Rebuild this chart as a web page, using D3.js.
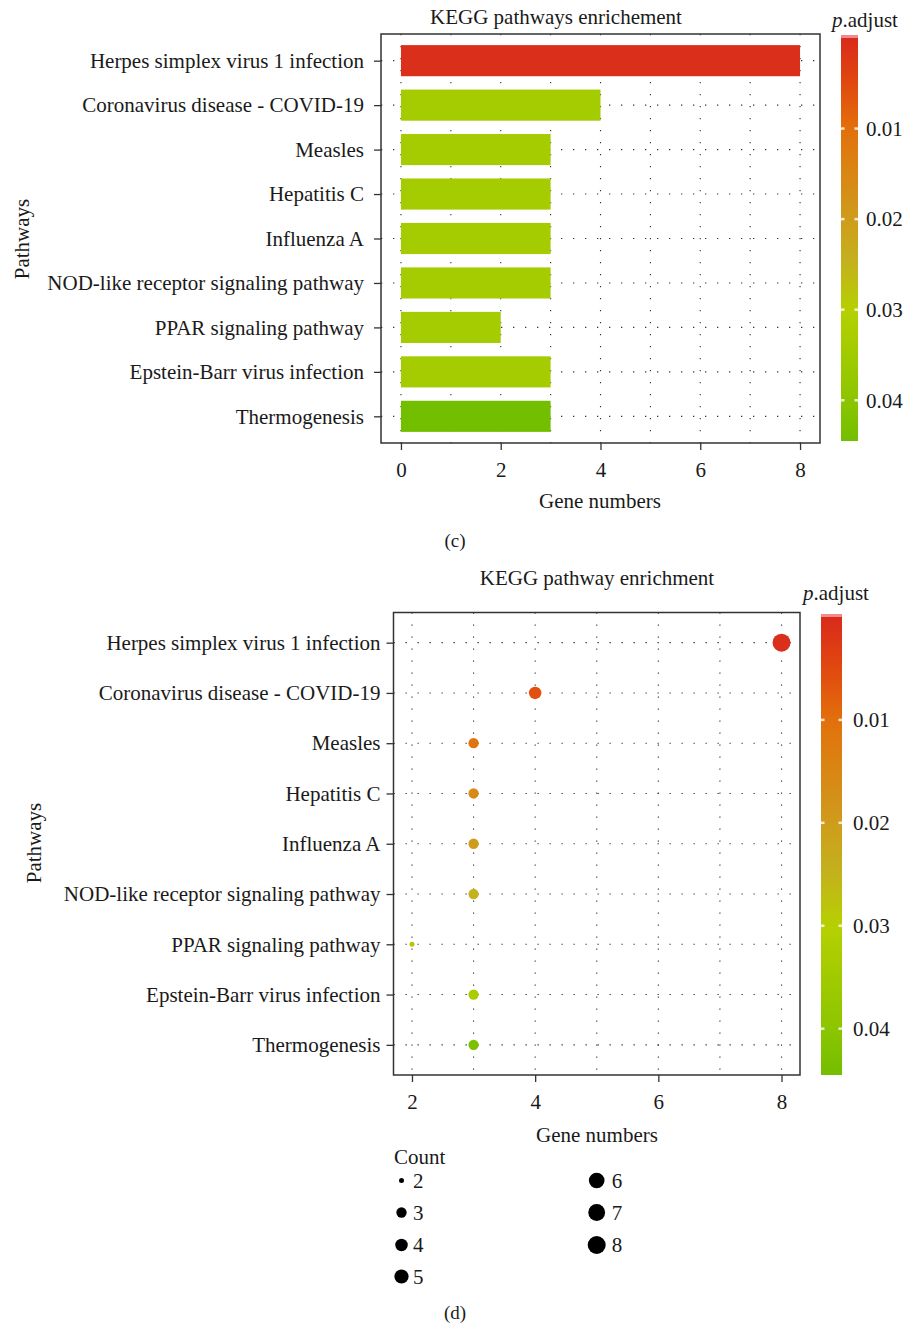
<!DOCTYPE html>
<html>
<head>
<meta charset="utf-8">
<script src="https://cdn.jsdelivr.net/npm/d3@7"></script>
<style>
  html, body { margin: 0; padding: 0; background: #fff; }
  svg { display: block; font-family: "Liberation Serif", "DejaVu Serif", serif; }
</style>
</head>
<body>
<svg id="fig" width="903" height="1327"></svg>
<script>
// ---- data ----
const pathways = [
  "Herpes simplex virus 1 infection",
  "Coronavirus disease - COVID-19",
  "Measles",
  "Hepatitis C",
  "Influenza A",
  "NOD-like receptor signaling pathway",
  "PPAR signaling pathway",
  "Epstein-Barr virus infection",
  "Thermogenesis"
];
const geneCounts = [8, 4, 3, 3, 3, 3, 2, 3, 3];
const barPAdjust = [0.0008, 0.034, 0.034, 0.034, 0.034, 0.034, 0.034, 0.034, 0.0445];
const dotPAdjust = [0.0008, 0.006, 0.011, 0.016, 0.020, 0.025, 0.028, 0.033, 0.043];
const colorTicks = [0.01, 0.02, 0.03, 0.04];
const colorTickLabels = ["0.01", "0.02", "0.03", "0.04"];
const countLegend = [2, 3, 4, 5, 6, 7, 8];
const barXTicks = [0, 2, 4, 6, 8];
const dotXTicks = [2, 4, 6, 8];

// p.adjust colour ramp (red -> orange -> gold -> yellow-green -> green)
const pMax = 0.0445;
const colorStopsP = [0, 0.005, 0.01, 0.02, 0.025, 0.03, 0.04, pMax];
const colorStopsC = ["#d92a1c", "#e1480f", "#e2700c", "#cf9c1c", "#c3b21c", "#b6d000", "#8cc500", "#74be00"];
const pColor = d3.scaleLinear().domain(colorStopsP).range(colorStopsC).interpolate(d3.interpolateRgb).clamp(true);

const svg = d3.select("#fig");
const FS = 21;
const INK = "#1a1a1a";
const defs = svg.append("defs");

const barRows = pathways.map((p, i) => ({ name: p, count: geneCounts[i], padj: barPAdjust[i] }));
const dotRows = pathways.map((p, i) => ({ name: p, count: geneCounts[i], padj: dotPAdjust[i] }));

function dottedGrid(g, x, y, xs, left, right, top, bottom) {
  const dash = "1.3,10.7";
  g.selectAll("line.vg").data(xs).join("line").attr("class", "vg")
    .attr("x1", d => x(d)).attr("x2", d => x(d))
    .attr("y1", top).attr("y2", bottom)
    .attr("stroke", "#333").attr("stroke-width", 1.1).attr("stroke-dasharray", dash);
  g.selectAll("line.hg").data(pathways).join("line").attr("class", "hg")
    .attr("x1", left).attr("x2", right)
    .attr("y1", d => y(d)).attr("y2", d => y(d))
    .attr("stroke", "#333").attr("stroke-width", 1.1).attr("stroke-dasharray", dash);
}

function styleAxis(a) {
  a.attr("font-family", null).attr("font-size", null);
  a.select(".domain").remove();
  a.selectAll("line").attr("stroke", "#333").attr("stroke-width", 1.3);
  a.selectAll("text").attr("font-size", FS).attr("fill", INK);
}

function colorbar(id, x0, top, bottom, width, labelX, titleX, titleY) {
  const grad = defs.append("linearGradient").attr("id", id)
    .attr("x1", 0).attr("y1", 0).attr("x2", 0).attr("y2", 1);
  d3.range(0, 1.0001, 0.02).forEach(t => {
    grad.append("stop").attr("offset", t).attr("stop-color", pColor(t * pMax));
  });
  const cy = d3.scaleLinear().domain([0, pMax]).range([top, bottom]);
  svg.append("rect").attr("x", x0).attr("y", top - 3).attr("width", width).attr("height", 4)
    .attr("fill", "#f38a8a");
  svg.append("rect").attr("x", x0).attr("y", top).attr("width", width).attr("height", bottom - top)
    .attr("fill", `url(#${id})`);
  const tk = svg.append("g");
  colorTicks.forEach((v, i) => {
    const yy = cy(v);
    tk.append("line").attr("x1", x0).attr("x2", x0 + 3.5).attr("y1", yy).attr("y2", yy)
      .attr("stroke", "#fff").attr("stroke-opacity", 0.8).attr("stroke-width", 2.5);
    tk.append("line").attr("x1", x0 + width - 3.5).attr("x2", x0 + width).attr("y1", yy).attr("y2", yy)
      .attr("stroke", "#fff").attr("stroke-opacity", 0.8).attr("stroke-width", 2.5);
    tk.append("text").attr("x", labelX).attr("y", yy).attr("dy", "0.35em")
      .attr("font-size", FS).attr("fill", INK).text(colorTickLabels[i]);
  });
  const t = svg.append("text").attr("x", titleX).attr("y", titleY).attr("font-size", FS).attr("fill", INK);
  t.append("tspan").attr("font-style", "italic").text("p");
  t.append("tspan").text(".adjust");
}

// ================= (c) bar chart =================
(function () {
  const L = 381, R = 820, T = 34, B = 443;
  const maxC = d3.max(geneCounts);
  const x = d3.scaleLinear().domain([-0.05 * maxC, maxC * 1.05]).range([L, R]);
  const y = d3.scalePoint().domain(pathways).range([T, B]).padding(0.6);
  const g = svg.append("g");

  dottedGrid(g, x, y, d3.range(0, maxC + 1), L, R, T, B);

  g.selectAll("rect.bar").data(barRows).join("rect").attr("class", "bar")
    .attr("x", x(0)).attr("width", d => x(d.count) - x(0))
    .attr("y", d => y(d.name) - y.step() * 0.35).attr("height", y.step() * 0.7)
    .attr("fill", d => pColor(d.padj));

  g.append("rect").attr("x", L).attr("y", T).attr("width", R - L).attr("height", B - T)
    .attr("fill", "none").attr("stroke", "#333").attr("stroke-width", 1.5);

  g.append("g").attr("transform", `translate(${L},0)`)
    .call(d3.axisLeft(y).tickSize(7).tickPadding(10)).call(styleAxis);

  g.append("g").attr("transform", `translate(0,${B})`)
    .call(d3.axisBottom(x).tickValues(barXTicks).tickFormat(d3.format("d")).tickSize(7).tickPadding(12))
    .call(styleAxis);

  svg.append("text").attr("x", 556).attr("y", 24).attr("text-anchor", "middle")
    .attr("font-size", FS).attr("fill", INK).text("KEGG pathways enrichement");
  svg.append("text").attr("x", 600).attr("y", 508).attr("text-anchor", "middle")
    .attr("font-size", FS).attr("fill", INK).text("Gene numbers");
  svg.append("text").attr("transform", "translate(29,239) rotate(-90)").attr("text-anchor", "middle")
    .attr("font-size", FS).attr("fill", INK).text("Pathways");
  svg.append("text").attr("x", 455).attr("y", 547).attr("text-anchor", "middle")
    .attr("font-size", FS - 2).attr("fill", INK).text("(c)");

  colorbar("gradC", 841, 38, 441, 17, 866, 832, 27);
})();

// ================= (d) dot chart =================
(function () {
  const L = 393.5, R = 800, T = 612.5, B = 1075;
  const minC = d3.min(geneCounts), maxC = d3.max(geneCounts);
  const pad = (maxC - minC) * 0.05;
  const x = d3.scaleLinear().domain([minC - pad, maxC + pad]).range([L, R]);
  const y = d3.scalePoint().domain(pathways).range([T, B]).padding(0.6);
  const rNorm = d3.scaleLinear().domain([0, 1]).range([2.5, 9]);
  const radius = c => rNorm(Math.sqrt((c - minC) / (maxC - minC)));
  const g = svg.append("g");

  dottedGrid(g, x, y, d3.range(minC, maxC + 1), L, R, T, B);

  g.selectAll("circle.dot").data(dotRows).join("circle").attr("class", "dot")
    .attr("cx", d => x(d.count)).attr("cy", d => y(d.name)).attr("r", d => radius(d.count))
    .attr("fill", d => pColor(d.padj));

  g.append("rect").attr("x", L).attr("y", T).attr("width", R - L).attr("height", B - T)
    .attr("fill", "none").attr("stroke", "#333").attr("stroke-width", 1.5);

  g.append("g").attr("transform", `translate(${L},0)`)
    .call(d3.axisLeft(y).tickSize(7).tickPadding(6)).call(styleAxis);

  g.append("g").attr("transform", `translate(0,${B})`)
    .call(d3.axisBottom(x).tickValues(dotXTicks).tickFormat(d3.format("d")).tickSize(7).tickPadding(12))
    .call(styleAxis);

  svg.append("text").attr("x", 597).attr("y", 585).attr("text-anchor", "middle")
    .attr("font-size", FS).attr("fill", INK).text("KEGG pathway enrichment");
  svg.append("text").attr("x", 597).attr("y", 1142).attr("text-anchor", "middle")
    .attr("font-size", FS).attr("fill", INK).text("Gene numbers");
  svg.append("text").attr("transform", "translate(41,843) rotate(-90)").attr("text-anchor", "middle")
    .attr("font-size", FS).attr("fill", INK).text("Pathways");
  svg.append("text").attr("x", 455).attr("y", 1319).attr("text-anchor", "middle")
    .attr("font-size", FS - 2).attr("fill", INK).text("(d)");

  colorbar("gradD", 821, 617, 1075, 21, 853, 803, 600);

  // size legend
  const lg = svg.append("g");
  lg.append("text").attr("x", 394).attr("y", 1164).attr("font-size", FS).attr("fill", INK).text("Count");
  const colX = [401.5, 596.7];
  const rowY = [1180.5, 1212.5, 1245, 1276.5];
  const items = countLegend.map((c, i) => ({ c, col: i < 4 ? 0 : 1, row: i < 4 ? i : i - 4 }));
  lg.selectAll("circle").data(items).join("circle")
    .attr("cx", d => colX[d.col]).attr("cy", d => rowY[d.row]).attr("r", d => radius(d.c))
    .attr("fill", "#000");
  lg.selectAll("text.lab").data(items).join("text").attr("class", "lab")
    .attr("x", d => colX[d.col] + 11.5 + (d.col ? 3.5 : 0)).attr("y", d => rowY[d.row]).attr("dy", "0.35em")
    .attr("font-size", FS).attr("fill", INK).text(d => d.c);
})();
</script>
</body>
</html>
